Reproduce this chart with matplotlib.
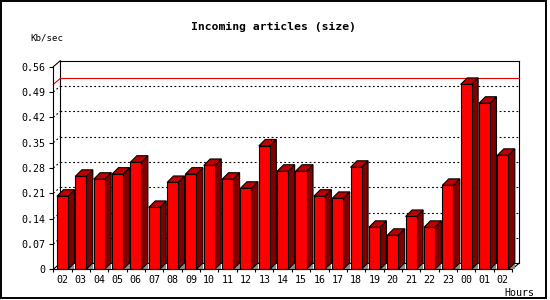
import matplotlib
matplotlib.use("Agg")
import matplotlib.pyplot as plt
from matplotlib.patches import Polygon, Rectangle
from matplotlib.lines import Line2D
import numpy as np

# ---- data ----
hours = ["02", "03", "04", "05", "06", "07", "08", "09", "10", "11", "12", "13",
         "14", "15", "16", "17", "18", "19", "20", "21", "22", "23", "00", "01", "02"]
size_kbps = [0.202, 0.257, 0.249, 0.263, 0.296, 0.171, 0.240, 0.263, 0.287, 0.249,
             0.224, 0.341, 0.271, 0.271, 0.202, 0.196, 0.282, 0.116, 0.094, 0.146,
             0.116, 0.232, 0.511, 0.459, 0.315]
y_ticks = [0, 0.07, 0.14, 0.21, 0.28, 0.35, 0.42, 0.49, 0.56]
y_tick_labels = ["0", "0.07", "0.14", "0.21", "0.28", "0.35", "0.42", "0.49", "0.56"]
title = "Incoming articles (size)"
y_unit = "Kb/sec"
x_unit = "Hours"

# ---- layout ----
W, H = 550, 300
fig = plt.figure(figsize=(W / 100, H / 100), dpi=100)
fig.patch.set_facecolor("white")

def fx(px):
    return px / W

def fy(py):
    return 1 - py / H

ax_l, ax_r, ax_b, ax_t = 53.3, 512.0, 269.3, 66.7
ax = fig.add_axes([fx(ax_l), fy(ax_b), (ax_r - ax_l) / W, (ax_b - ax_t) / H])
n = len(size_kbps)
ymax = y_ticks[-1]
ax.set_xlim(-0.5, n - 0.5)
ax.set_ylim(0, ymax)
ax.patch.set_visible(False)

px_slot = (ax_r - ax_l) / n
px_unit = (ax_b - ax_t) / ymax
wall_dx, wall_dy = 7.0 / px_slot, 6.0 / px_unit
bar_dx, bar_dy = 6.5 / px_slot, 6.5 / px_unit

LW = 0.8
black = "black"
x0, x1 = -0.5, n - 0.5

# back wall outline
wall_lines = [
    ([x0 + wall_dx, x1 + wall_dx], [ymax + wall_dy, ymax + wall_dy]),
    ([x1 + wall_dx, x1 + wall_dx], [ymax + wall_dy, wall_dy]),
    ([x1 + wall_dx, x1], [wall_dy, 0]),
    ([x0 + wall_dx, x0 + wall_dx], [wall_dy, ymax + wall_dy]),
    ([x0, x0 + wall_dx], [ymax, ymax + wall_dy]),
    ([x0, x0 + wall_dx], [0, wall_dy]),
    ([x0 + wall_dx, x1 + wall_dx], [wall_dy, wall_dy]),
]
for xs, ys in wall_lines:
    ax.add_line(Line2D(xs, ys, color=black, lw=LW, clip_on=False, zorder=2))

# dotted gridlines on the back wall
for t in y_ticks[1:-1]:
    ax.add_line(Line2D([x0 + wall_dx, x1 + wall_dx], [t + wall_dy, t + wall_dy],
                       color=black, lw=LW, ls=(0, (1.6, 2.2)), clip_on=False, zorder=2))
    ax.add_line(Line2D([x0, x0 + wall_dx], [t, t + wall_dy],
                       color=black, lw=LW, ls=(0, (1.6, 2.2)), clip_on=False, zorder=2))

# max line (red)
vmax = max(size_kbps)
ax.add_line(Line2D([x0 + wall_dx, x1 + wall_dx], [vmax + wall_dy, vmax + wall_dy],
                   color="#e00000", lw=LW, clip_on=False, zorder=2.5))
ax.add_line(Line2D([x0, x0 + wall_dx], [vmax, vmax + wall_dy],
                   color="#e00000", lw=LW, clip_on=False, zorder=2.5))

# 3D bars
half = 0.3
z = 3
for i, v in enumerate(size_kbps):
    l, r = i - half, i + half
    tri = Polygon([(r, 0), (r + bar_dx, 0), (r + bar_dx, bar_dy)], closed=True,
                  fc="#8c8c8c", ec="none", clip_on=False, zorder=z)
    side = Polygon([(r, 0), (r + bar_dx, bar_dy), (r + bar_dx, v + bar_dy), (r, v)],
                   closed=True, fc="#800000", ec=black, lw=LW, clip_on=False, zorder=z + 0.1)
    top = Polygon([(l, v), (l + bar_dx, v + bar_dy), (r + bar_dx, v + bar_dy), (r, v)],
                  closed=True, fc="#c00000", ec=black, lw=LW, clip_on=False, zorder=z + 0.1)
    front = Rectangle((l, 0), 2 * half, v, fc="#ff0000", ec=black, lw=LW,
                      clip_on=False, zorder=z + 0.2)
    for p in (tri, side, top, front):
        ax.add_patch(p)
    z += 0.5

# axes / ticks
for s in ("top", "right"):
    ax.spines[s].set_visible(False)
for s in ("left", "bottom"):
    ax.spines[s].set_linewidth(LW)
    ax.spines[s].set_zorder(50)

mono = "DejaVu Sans Mono"
ax.set_yticks(y_ticks)
ax.set_yticklabels(y_tick_labels, fontsize=7.2, family=mono)
ax.tick_params(axis="y", direction="out", length=3, width=LW, pad=2.5)
ax.set_xticks(range(n))
ax.set_xticklabels(hours, fontsize=7.2, family=mono)
ax.set_xticks(np.arange(n + 1) - 0.5, minor=True)
ax.tick_params(axis="x", which="major", length=0, pad=4)
ax.tick_params(axis="x", which="minor", direction="out", length=2.2, width=LW)

# texts
fig.text(fx(273.5), fy(26.7), title, ha="center", va="center", fontsize=8.2,
         family=mono, fontweight="bold")
fig.text(fx(30), fy(38.3), y_unit, ha="left", va="center", fontsize=6.6, family=mono)
fig.text(fx(504), fy(292.5), x_unit, ha="left", va="center", fontsize=7.2, family=mono)

# outer frame
fig.add_artist(Rectangle((fx(0.8), fy(297.5)), (546.2 - 0.8) / W, (297.5 - 0.8) / H,
                         transform=fig.transFigure, fill=False, ec=black, lw=1.4))

fig.savefig("out.png", dpi=100, facecolor="white")
